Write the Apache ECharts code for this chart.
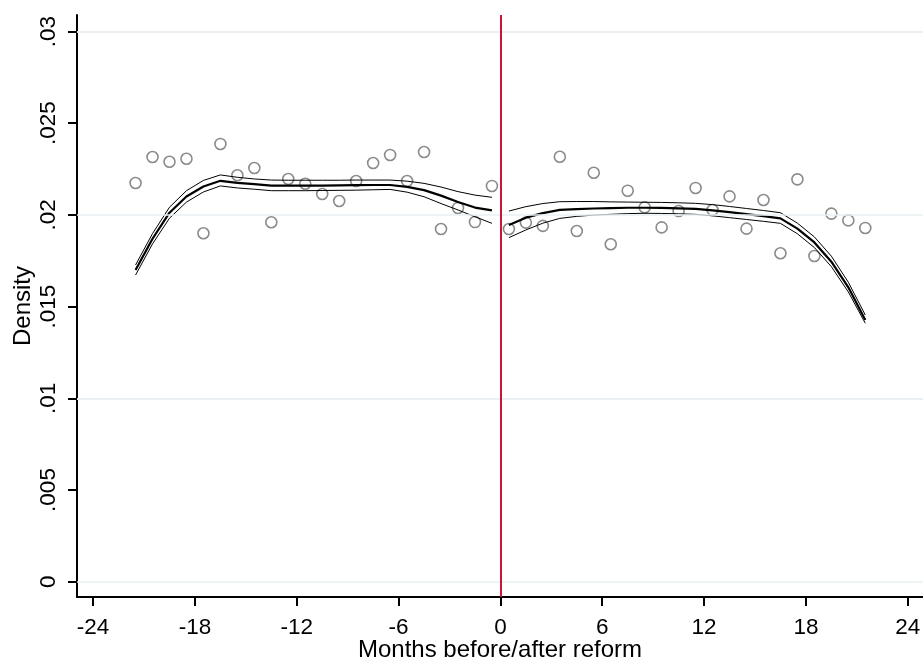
<!DOCTYPE html>
<html>
<head>
<meta charset="utf-8">
<style>
  html, body { margin: 0; padding: 0; background: #ffffff; }
  #chart { width: 923px; height: 665px; }
</style>
<script src="https://cdn.jsdelivr.net/npm/echarts@6/dist/echarts.min.js"></script>
</head>
<body>
<div id="chart"></div>
<script>
// Bin midpoints (months relative to the reform), one per monthly bin
const binsBefore = [-21.5, -20.5, -19.5, -18.5, -17.5, -16.5, -15.5, -14.5, -13.5, -12.5, -11.5,
                    -10.5, -9.5, -8.5, -7.5, -6.5, -5.5, -4.5, -3.5, -2.5, -1.5, -0.5];
const binsAfter = [0.5, 1.5, 2.5, 3.5, 4.5, 5.5, 6.5, 7.5, 8.5, 9.5, 10.5,
                   11.5, 12.5, 13.5, 14.5, 15.5, 16.5, 17.5, 18.5, 19.5, 20.5, 21.5];

// Histogram density of each bin
const densityBefore = [0.02174, 0.02316, 0.02290, 0.02306, 0.01900, 0.02387, 0.02216, 0.02256, 0.01960, 0.02196, 0.02170,
                       0.02114, 0.02076, 0.02185, 0.02283, 0.02327, 0.02185, 0.02343, 0.01923, 0.02038, 0.01961, 0.02158];
const densityAfter = [0.01923, 0.01958, 0.01940, 0.02317, 0.01912, 0.02230, 0.01840, 0.02132, 0.02041, 0.01932, 0.02021,
                      0.02147, 0.02027, 0.02101, 0.01925, 0.02081, 0.01791, 0.02194, 0.01776, 0.02007, 0.01970, 0.01929];

// Local linear density fit with its confidence band, left of the cutoff
const fitBefore = [0.01700, 0.01870, 0.02012, 0.02100, 0.02155, 0.02186, 0.02175, 0.02168, 0.02160, 0.02160, 0.02160,
                   0.02160, 0.02161, 0.02162, 0.02163, 0.02163, 0.02153, 0.02135, 0.02105, 0.02070, 0.02040, 0.02025];
const upperBefore = [0.01727, 0.01898, 0.02042, 0.02132, 0.02188, 0.02218, 0.02205, 0.02196, 0.02190, 0.02189, 0.02189,
                     0.02189, 0.02189, 0.02190, 0.02190, 0.02190, 0.02184, 0.02172, 0.02152, 0.02127, 0.02108, 0.02096];
const lowerBefore = [0.01672, 0.01842, 0.01982, 0.02070, 0.02125, 0.02158, 0.02147, 0.02140, 0.02132, 0.02132, 0.02132,
                     0.02133, 0.02134, 0.02135, 0.02137, 0.02139, 0.02124, 0.02099, 0.02062, 0.02027, 0.01990, 0.01954];

// Same fit, right of the cutoff
const fitAfter = [0.01945, 0.01985, 0.02010, 0.02027, 0.02032, 0.02035, 0.02037, 0.02039, 0.02039, 0.02038, 0.02036,
                  0.02033, 0.02025, 0.02015, 0.02004, 0.01993, 0.01981, 0.01925, 0.01850, 0.01745, 0.01605, 0.01427];
const upperAfter = [0.02021, 0.02045, 0.02062, 0.02072, 0.02073, 0.02073, 0.02071, 0.02070, 0.02069, 0.02068, 0.02066,
                    0.02063, 0.02056, 0.02046, 0.02035, 0.02024, 0.02012, 0.01955, 0.01880, 0.01775, 0.01633, 0.01454];
const lowerAfter = [0.01876, 0.01918, 0.01955, 0.01981, 0.01992, 0.01999, 0.02003, 0.02007, 0.02009, 0.02008, 0.02006,
                    0.02003, 0.01995, 0.01985, 0.01975, 0.01965, 0.01954, 0.01897, 0.01822, 0.01718, 0.01580, 0.01409];

// Axis ticks
const xTickValues = [-24, -18, -12, -6, 0, 6, 12, 18, 24];
const yTickValues = [0, 0.005, 0.01, 0.015, 0.02, 0.025, 0.03];
const yTickLabels = ['0', '.005', '.01', '.015', '.02', '.025', '.03'];

const cutoff = 0;

const FONT = '"Liberation Sans", Arial, sans-serif';
const pairs = (xs, ys) => xs.map((x, i) => [x, ys[i]]);

const chart = echarts.init(document.getElementById('chart'), null, { renderer: 'canvas' });

function fitSeries(name, xs, ys, width) {
  return {
    name: name,
    type: 'line',
    data: pairs(xs, ys),
    showSymbol: false,
    smooth: false,
    silent: true,
    z: 3,
    lineStyle: { color: '#000000', width: width }
  };
}

chart.setOption({
  animation: false,
  backgroundColor: '#ffffff',
  grid: { left: 77, right: 0, top: 15, bottom: 68, outerBoundsMode: 'none', containLabel: false },
  xAxis: {
    type: 'value',
    min: -24.95,
    max: 24.9,
    name: 'Months before/after reform',
    nameLocation: 'middle',
    nameGap: 41,
    nameMoveOverlap: false,
    nameTextStyle: { fontFamily: FONT, fontSize: 24, color: '#000000' },
    axisLine: { show: true, onZero: false, lineStyle: { color: '#000000', width: 2 } },
    axisTick: { show: true, length: 9, customValues: xTickValues, lineStyle: { color: '#000000', width: 2 } },
    axisLabel: { customValues: xTickValues, margin: 19, fontFamily: FONT, fontSize: 22.5, color: '#000000' },
    splitLine: { show: false }
  },
  yAxis: {
    type: 'value',
    min: -0.000834,
    max: 0.0309,
    name: 'Density',
    nameLocation: 'middle',
    nameGap: 42,
    nameMoveOverlap: false,
    nameRotate: 90,
    nameTextStyle: { fontFamily: FONT, fontSize: 24, color: '#000000' },
    axisLine: { show: true, onZero: false, lineStyle: { color: '#000000', width: 2 } },
    axisTick: { show: true, length: 9, customValues: yTickValues, lineStyle: { color: '#000000', width: 2 } },
    axisLabel: {
      customValues: yTickValues,
      rotate: 90,
      margin: 17,
      fontFamily: FONT,
      fontSize: 22.5,
      color: '#000000',
      formatter: function (v) {
        const i = yTickValues.findIndex(t => Math.abs(t - v) < 1e-9);
        return i >= 0 ? yTickLabels[i] : '';
      }
    },
    splitLine: { show: false }
  },
  series: [
    {
      // horizontal reference lines at each labelled density
      type: 'line',
      data: [],
      silent: true,
      z: 1,
      markLine: {
        silent: true,
        symbol: ['none', 'none'],
        label: { show: false },
        lineStyle: { color: '#e9eff3', width: 1.5, type: 'solid' },
        data: yTickValues.map(v => ({ yAxis: v }))
      }
    },
    {
      name: 'Density',
      type: 'scatter',
      data: pairs(binsBefore, densityBefore).concat(pairs(binsAfter, densityAfter)),
      symbol: 'circle',
      symbolSize: 11,
      z: 2,
      itemStyle: { color: 'rgba(255,255,255,0)', borderColor: '#6e6e6e', borderWidth: 1.6 }
    },
    fitSeries('Fit (before)', binsBefore, fitBefore, 2.2),
    fitSeries('Upper (before)', binsBefore, upperBefore, 1),
    fitSeries('Lower (before)', binsBefore, lowerBefore, 1),
    fitSeries('Fit (after)', binsAfter, fitAfter, 2.2),
    fitSeries('Upper (after)', binsAfter, upperAfter, 1),
    fitSeries('Lower (after)', binsAfter, lowerAfter, 1),
    {
      // reform date
      type: 'line',
      data: [],
      silent: true,
      z: 4,
      markLine: {
        silent: true,
        symbol: ['none', 'none'],
        label: { show: false },
        lineStyle: { color: '#cc1236', width: 2, type: 'solid' },
        data: [{ xAxis: cutoff }]
      }
    }
  ]
});
</script>
</body>
</html>
